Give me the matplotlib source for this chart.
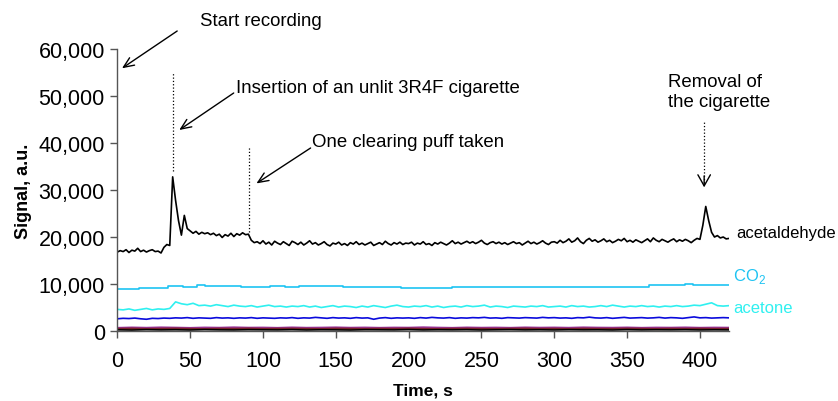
import numpy as np
import matplotlib
matplotlib.use("Agg")
import matplotlib.pyplot as plt
from matplotlib.ticker import FuncFormatter

plt.rcParams['font.family'] = ['Liberation Sans', 'DejaVu Sans']
plt.rcParams['mathtext.fontset'] = 'custom'
plt.rcParams['mathtext.rm'] = 'Liberation Sans'

# acetaldehyde, sampled every 2 s from 0 to 420 s
t_acetaldehyde = np.arange(0, 421, 2)
acetaldehyde = [
    16800, 17100, 16900, 17300, 16700, 17200, 17000, 17600, 16900, 17200,
    16800, 17100, 17300, 16900, 17000, 16600,
    17800, 18400, 18200, 32800, 27800, 23500, 20400, 24600, 21800, 21300,
    20800, 21200, 20600, 21000, 20700, 20900, 20500, 20800, 20300, 20600,
    19900, 20500, 20200, 20800, 20100, 20700, 20400, 20900, 20500, 20600,
    19300, 18800, 19000, 18600,
    19200, 18500, 18900, 18300, 19100, 18700, 18400, 19000, 18600, 18200,
    19100, 18800, 18400, 18900, 18300, 18700, 19200, 18500, 18800, 18300,
    18600, 19000, 18400, 18100, 18700, 18500, 18900, 18300, 18600, 18200,
    18800, 18500, 19000, 18400, 18700, 18300, 18600, 18900, 18200, 18500,
    18800, 18400, 19100, 18600, 18300, 18800, 18500, 18900, 18400, 18700,
    18600, 18900, 18300, 18700, 18500, 19000, 18400, 18600, 18200, 18800,
    18500, 18900, 18600, 18300, 18700, 19200, 18600, 18900, 18500, 18800,
    19100, 18700, 19000, 18600, 18900, 19300, 18700, 18400, 18800, 19000,
    18600, 18900, 18500, 18800, 18400, 18700, 19000, 18600, 18800, 18300,
    18700, 19100, 18600, 18900, 18500, 18800, 19200, 18700, 18400, 18900,
    19000, 18700, 19300, 18800, 19100, 19600, 18900, 19200, 19800, 19000,
    18600, 19300, 19700, 19100, 19400, 18900, 19200, 19600, 19000, 19300,
    18800, 19100, 19500, 19200, 19700, 19000, 19300, 18900, 19400, 19100,
    18800, 19200, 19600, 19000, 19800, 19300, 19000, 19500, 19200, 18900,
    19300, 19600, 19000, 19400, 19100, 19500, 19200, 18800, 19300, 19700,
    19500, 22500, 26500, 23500, 21000, 20000, 20300, 19800, 20000, 19600,
    19700,
]

# CO2, every 5 s
t_co2 = np.arange(0, 421, 5)
co2 = [
    8950, 8950, 8950, 9200, 9200, 9200, 9200, 9600, 9600, 9300,
    9350, 9850, 9650, 9500, 9500, 9550, 9500, 9400, 9400, 9400,
    9400, 9500, 9500, 9450, 9450, 9600, 9600, 9600, 9600, 9600,
    9600, 9300, 9300, 9300, 9300, 9300, 9300, 9300, 9300, 9150,
    9200, 9100, 9150, 9100, 9200, 9100, 9300, 9300, 9300, 9300,
    9300, 9300, 9300, 9300, 9300, 9300, 9300, 9300, 9300, 9300,
    9300, 9300, 9300, 9300, 9300, 9300, 9300, 9300, 9300, 9300,
    9300, 9300, 9300, 9700, 9700, 9800, 9700, 9700, 9900, 9800,
    9850, 9700, 9850, 9800, 9850,
]

# acetone and the blue trace, every 4 s
t_4s = np.arange(0, 421, 4)
acetone = [
    4600, 4500, 4700, 4400, 4600, 4800, 4500, 4700, 4600, 4800,
    6200, 5800, 5600, 5900, 5400, 5500, 5300, 5600, 5400, 5200,
    5500, 5300, 5200, 5400, 5100, 5300, 5500, 5200, 5300, 5100,
    5300, 5200, 5400, 5100, 5300, 5000, 5200, 5400, 5100, 5300,
    5200, 5000, 5300, 5100, 5400, 5200, 5000, 5300, 5500, 5200,
    5100, 5300, 5200, 5400, 5100, 5300, 5000, 5200, 5300, 5100,
    5400, 5200, 5300, 5500, 5100, 5300, 5200, 5000, 5300, 5200,
    5100, 5300, 5200, 5400, 5100, 5200, 5300, 5100, 5400, 5200,
    5300, 5100, 5200, 5400, 5200, 5500, 5300, 5100, 5300, 5200,
    5400, 5200, 5300, 5100, 5300, 5200, 5400, 5200, 5300, 5500,
    5400, 5700, 6000, 5400, 5300, 5400,
]
blue_trace = [
    2600, 2700, 2650, 2750, 2600, 2500, 2700, 2650, 2750, 2700,
    2800, 2750, 2850, 2700, 2800, 2750, 2700, 2850, 2750, 2800,
    2700, 2800, 2750, 2850, 2700, 2800, 2750, 2700, 2800, 2750,
    2850, 2700, 2800, 2750, 2900, 2800, 2700, 2850, 2750, 2800,
    2700, 2850, 2750, 2800, 2500, 2750, 2850, 2700, 2800, 2750,
    2800, 2700, 2850, 2750, 2900, 2800, 2750, 2850, 2700, 2800,
    2750, 2850, 2800, 2900, 2750, 2800, 2700, 2850, 2800, 2750,
    2850, 2800, 2750, 2900, 2800, 2850, 2750, 2800, 2700, 2850,
    2800, 2950, 2800, 2750, 2850, 2700, 2800, 2900, 2750, 2800,
    2850, 2750, 2800, 2900, 2750, 2850, 2800, 2700, 2850, 3000,
    2800, 2850, 2750, 2800, 2850, 2800,
]

# low-level traces near zero, every 10 s
t_10s = np.arange(0, 421, 10)
purple_trace = [
    700, 780, 720, 800, 750, 690, 770, 730, 810, 740,
    760, 700, 790, 720, 750, 800, 730, 770, 710, 760,
    740, 820, 750, 700, 780, 730, 760, 710, 790, 740,
    770, 720, 800, 750, 730, 780, 710, 760, 740, 790,
    720, 760, 740,
]
maroon_trace = [
    500, 550, 480, 520, 560, 500, 470, 530, 510, 560,
    490, 520, 540, 500, 480, 550, 520, 490, 530, 510,
    560, 500, 480, 520, 540, 510, 490, 530, 560, 500,
    520, 480, 540, 510, 500, 550, 520, 490, 530, 510,
    540, 500, 520,
]
brown_trace = [
    400, 380, 420, 390, 410, 370, 430, 400, 380, 410,
    420, 390, 400, 430, 380, 410, 400, 370, 420, 390,
    410, 400, 380, 430, 390, 410, 420, 380, 400, 390,
    430, 410, 380, 400, 420, 390, 410, 370, 400, 420,
    390, 410, 400,
]
black_trace = [
    250, 200, 280, 230, 260, 210, 290, 240, 220, 270,
    250, 230, 280, 210, 260, 240, 200, 270, 250, 230,
    290, 220, 260, 240, 270, 210, 250, 280, 230, 260,
    220, 270, 240, 250, 210, 280, 230, 260, 240, 270,
    220, 250, 230,
]

x_ticks = [0, 50, 100, 150, 200, 250, 300, 350, 400]
y_ticks = [0, 10000, 20000, 30000, 40000, 50000, 60000]

co2_color = '#1ec3f2'
acetone_color = '#2ff0f0'

fig = plt.figure(figsize=(8.38, 4.02), dpi=100)
ax = fig.add_axes([0.14, 0.1741, 0.730, 0.7015])

lw = 1.2
ax.plot(t_10s, purple_trace, color='#993399', lw=lw)
ax.plot(t_10s, brown_trace, color='#a0522d', lw=lw)
ax.plot(t_10s, maroon_trace, color='#7a1f2b', lw=lw)
ax.plot(t_10s, black_trace, color='black', lw=lw)
ax.plot(t_4s, blue_trace, color='#0a0adc', lw=lw)
ax.plot(t_4s, acetone, color=acetone_color, lw=lw)
ax.plot(t_co2, co2, color=co2_color, lw=lw, drawstyle='steps-post')
ax.plot(t_acetaldehyde, acetaldehyde, color='black', lw=lw)

ax.set_xlim(0, 420)
ax.set_ylim(0, 60000)
ax.set_xticks(x_ticks)
ax.set_yticks(y_ticks)
ax.yaxis.set_major_formatter(FuncFormatter(lambda v, p: f'{int(v):,}'))
for s in ['top', 'right']:
    ax.spines[s].set_visible(False)
for s in ['left', 'bottom']:
    ax.spines[s].set_color('#555555')
    ax.spines[s].set_linewidth(1.0)
ax.tick_params(direction='out', length=5, width=1, color='#555555',
               labelsize=15.5, pad=4)
ax.tick_params(axis='x', pad=9)

ax.set_xlabel('Time, s', fontsize=12.5, fontweight='bold', labelpad=8)
ax.set_ylabel('Signal, a.u.', fontsize=13, fontweight='bold', labelpad=5)

# series labels at the right end
ax.text(425, 21000, 'acetaldehyde', fontsize=12, color='black', va='center', clip_on=False)
ax.text(423, 11770, 'CO$_2$', fontsize=12, color=co2_color, va='center', clip_on=False)
ax.text(423, 5040, 'acetone', fontsize=12, color=acetone_color, va='center', clip_on=False)

arrow = dict(arrowstyle='->,head_length=0.75,head_width=0.32', color='black', lw=1.0,
             shrinkA=0, shrinkB=0)
fs = 13.4

ax.text(57, 65960, 'Start recording', fontsize=fs, va='center', clip_on=False)
ax.annotate('', xy=(3.2, 55900), xytext=(41.1, 63830), arrowprops=arrow,
            annotation_clip=False)

ax.plot([38.1, 38.1], [34100, 54900], color='black', lw=0.9, ls=':')
ax.text(81.8, 51900, 'Insertion of an unlit 3R4F cigarette', fontsize=fs,
        va='center', clip_on=False)
ax.annotate('', xy=(42.5, 42770), xytext=(79.9, 50640), arrowprops=arrow)

ax.plot([90.5, 90.5], [21000, 39200], color='black', lw=0.9, ls=':')
ax.text(134, 40280, 'One clearing puff taken', fontsize=fs, va='center', clip_on=False)
ax.annotate('', xy=(95.5, 31400), xytext=(132.7, 38940), arrowprops=arrow)

ax.text(377.9, 51000, 'Removal of\nthe cigarette', fontsize=fs, va='center',
        linespacing=1.2, clip_on=False)
# dotted shaft with a solid open head
ax.plot([402.9, 402.9], [31500, 44400], color='black', lw=0.9, ls=':')
head = dict(arrowstyle='->,head_length=0.8,head_width=0.45', color='black', lw=1.0,
            shrinkA=0, shrinkB=0)
ax.annotate('', xy=(402.9, 30570), xytext=(402.9, 33000), arrowprops=head)

fig.savefig('out.png', dpi=100)
